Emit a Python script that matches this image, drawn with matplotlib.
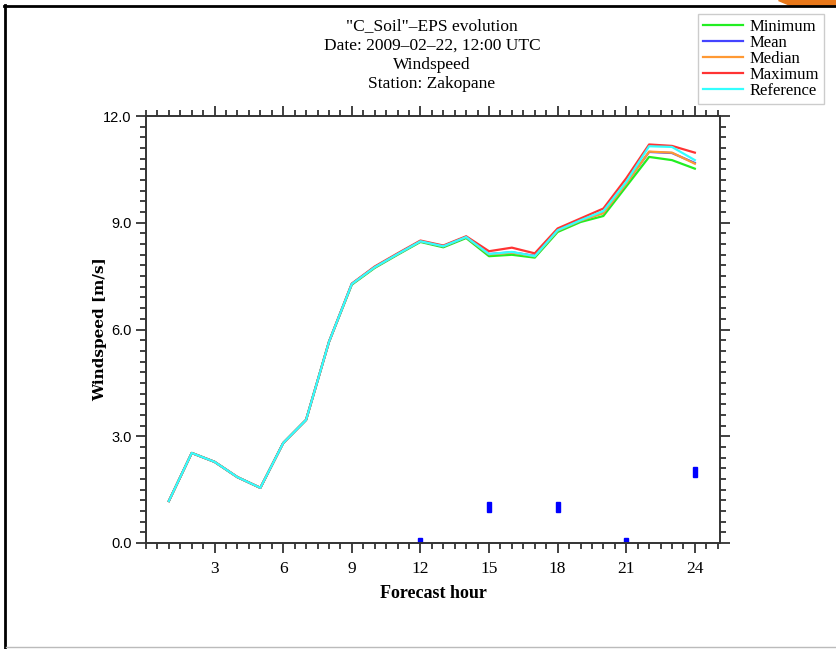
import matplotlib
matplotlib.use("Agg")
import matplotlib.pyplot as plt
from matplotlib.markers import MarkerStyle
from matplotlib.transforms import Affine2D
from matplotlib.lines import Line2D
from matplotlib.patches import Polygon

hours = list(range(1, 25))

reference = [1.18, 2.53, 2.28, 1.85, 1.55, 2.81, 3.46, 5.65, 7.28, 7.75, 8.12, 8.48,
             8.34, 8.60, 8.12, 8.18, 8.06, 8.79, 9.07, 9.33, 10.15, 11.15, 11.13, 10.76]
minimum = [1.18, 2.53, 2.28, 1.85, 1.55, 2.81, 3.46, 5.65, 7.26, 7.73, 8.10, 8.46,
           8.31, 8.57, 8.06, 8.10, 8.02, 8.74, 9.02, 9.19, 10.02, 10.85, 10.76, 10.52]
mean = [1.18, 2.53, 2.28, 1.85, 1.55, 2.81, 3.46, 5.65, 7.28, 7.75, 8.12, 8.48,
        8.34, 8.60, 8.12, 8.17, 8.07, 8.79, 9.07, 9.28, 10.12, 10.99, 10.96, 10.68]
median = [1.18, 2.53, 2.28, 1.85, 1.55, 2.81, 3.46, 5.65, 7.28, 7.75, 8.12, 8.48,
          8.34, 8.60, 8.11, 8.16, 8.06, 8.78, 9.06, 9.27, 10.10, 11.00, 10.97, 10.66]
maximum = [1.18, 2.53, 2.28, 1.85, 1.55, 2.81, 3.46, 5.65, 7.29, 7.77, 8.14, 8.50,
           8.36, 8.62, 8.20, 8.30, 8.14, 8.84, 9.12, 9.40, 10.25, 11.20, 11.16, 10.97]

spread_hours = [12, 15, 18, 21, 24]
spread_values = [0.0, 1.0, 1.0, 0.0, 2.0]

title_lines = ['"C_Soil"\u2013EPS evolution', "Date: 2009\u201302\u201322, 12:00 UTC",
               "Windspeed", "Station: Zakopane"]

SERIF = "Liberation Serif"
W, H = 836, 649

fig = plt.figure(figsize=(8.36, 6.49), dpi=100)
ax = fig.add_axes([146 / W, 1 - 543 / H, (720 - 146) / W, (543 - 116) / H])

series = [("Minimum", minimum, "#22ee22"),
          ("Mean", mean, "#4444ff"),
          ("Median", median, "#ff9933"),
          ("Maximum", maximum, "#ff3333"),
          ("Reference", reference, "#33ffff")]
for name, vals, col in series:
    ax.plot(hours, vals, color=col, lw=1.6, label=name)

rect = MarkerStyle("s", transform=Affine2D().scale(0.45, 1.0))
ax.plot(spread_hours, spread_values, ls="none", marker=rect, ms=7.5,
        color="#0000ff", clip_on=True)

ax.set_xlim(0, 25.1)
ax.set_ylim(0, 12)
ax.set_xticks([3, 6, 9, 12, 15, 18, 21, 24])
ax.set_xticks([h * 0.5 for h in range(0, 51)], minor=True)
ax.set_yticks([0, 3, 6, 9, 12])
ax.set_yticks([i * 0.3 for i in range(0, 41)], minor=True)
ax.set_yticklabels(["0.0", "3.0", "6.0", "9.0", "12.0"], fontfamily="Liberation Sans", fontsize=10.5)
for lab in ax.get_xticklabels():
    lab.set_fontfamily(SERIF)
    lab.set_fontsize(12.5)
ax.tick_params(which="both", direction="out", top=True, right=True, width=1.3, color="#333333")
ax.tick_params(which="major", length=7)
ax.tick_params(which="minor", length=4)
ax.tick_params(axis="x", pad=6)
for s in ax.spines.values():
    s.set_linewidth(1.4)
    s.set_color("#333333")

ax.set_xlabel("Forecast hour", fontfamily=SERIF, fontsize=13, fontweight="bold", labelpad=6)
ax.set_ylabel("Windspeed [m/s]", fontfamily="DejaVu Serif", fontsize=11, fontweight="bold")
ax.yaxis.set_label_coords(-0.068, 0.5)

for i, line in enumerate(title_lines):
    fig.text(432 / W, 1 - (26 + i * 19.5) / H, line, ha="center", va="center",
             fontfamily=SERIF, fontsize=12.5)

handles = [Line2D([], [], color=c, lw=1.6) for _, _, c in series]
leg = fig.legend(handles, [n for n, _, _ in series], loc="upper left",
                 bbox_to_anchor=(698 / W, 1 - 14 / H), prop={"family": SERIF, "size": 12},
                 handlelength=2.4, handletextpad=0.4, labelspacing=0.0,
                 borderpad=0.3, borderaxespad=0, fancybox=False, framealpha=1)
leg.get_frame().set_edgecolor("#cccccc")

# screenshot frame and slide remnants
fig.add_artist(Line2D([4.5 / W, 4.5 / W], [0, 1 - 5 / H], transform=fig.transFigure, color="black", lw=2))
fig.add_artist(Line2D([4 / W, 1], [1 - 5.5 / H, 1 - 5.5 / H], transform=fig.transFigure, color="black", lw=2))
fig.add_artist(Line2D([6 / W, 1], [2 / H, 2 / H], transform=fig.transFigure, color="#bbbbbb", lw=1))
fig.add_artist(Polygon([[778 / W, 1], [1, 1], [1, 1 - 4.5 / H], [790 / W, 1 - 4.5 / H]],
                       closed=True, transform=fig.transFigure, color="#e8781a"))

fig.savefig("out.png", dpi=100)
